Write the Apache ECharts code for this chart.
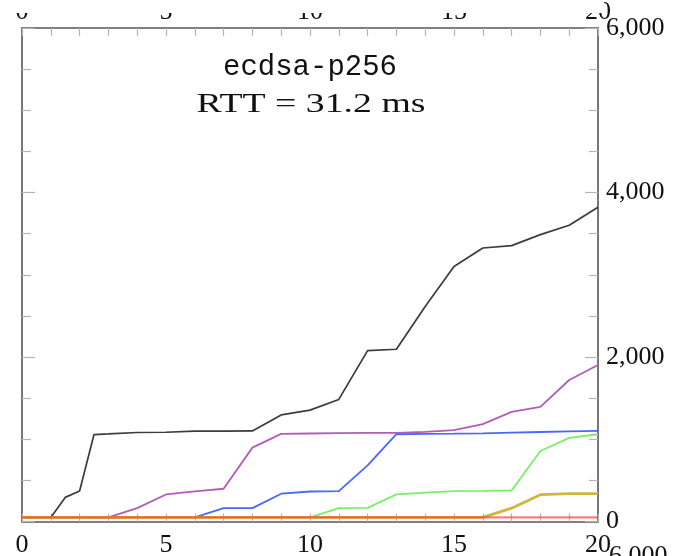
<!DOCTYPE html>
<html>
<head>
<meta charset="utf-8">
<script src="https://cdn.jsdelivr.net/npm/echarts@6/dist/echarts.min.js"></script>
<style>html,body{margin:0;padding:0;background:#fff}#c{width:677px;height:556px}</style>
</head>
<body>
<div id="c"></div>
<script>
var titleText = 'ecdsa-p256';
var subtitleText = 'RTT = 31.2 ms';
var xTicks = [0, 5, 10, 15, 20];
var yTicks = [0, 2000, 4000, 6000];

var blackX = [0, 1, 1.5, 2, 2.5, 3, 4, 5, 6, 7, 8, 9, 10, 11, 12, 13, 14, 15, 16, 17, 18, 19, 20];
var blackY = [50, 50, 293, 370, 1057, 1065, 1082, 1085, 1098, 1100, 1101, 1296, 1354, 1484, 2077, 2094, 2614, 3101, 3325, 3354, 3488, 3602, 3821];
var purpleX = [0, 3, 4, 5, 6, 7, 8, 9, 10, 11, 12, 13, 14, 15, 16, 17, 18, 19, 20];
var purpleY = [50, 50, 162, 329, 365, 398, 898, 1065, 1070, 1075, 1077, 1077, 1090, 1110, 1183, 1333, 1394, 1720, 1902];
var blueX = [0, 6, 7, 8, 9, 10, 11, 12, 13, 14, 15, 16, 17, 18, 19, 20];
var blueY = [50, 50, 162, 162, 338, 365, 370, 683, 1061, 1065, 1068, 1072, 1080, 1088, 1095, 1101];
var greenX = [0, 10, 11, 12, 13, 14, 15, 16, 17, 18, 19, 20];
var greenY = [50, 50, 162, 166, 329, 350, 370, 372, 378, 857, 1016, 1061];
var oliveX = [0, 16, 17, 18, 19, 20];
var oliveY = [50, 50, 162, 326, 338, 338];
var redX = [0, 20];
var redY = [50, 50];

function pairs(xs, ys) { return xs.map(function (x, i) { return [x, ys[i]]; }); }
var fmt = function (v) { return v.toLocaleString('en-US'); };

function axisLine() { return { show: true, onZero: false, lineStyle: { color: '#555', width: 1.6 } }; }
function tickStyle() { return { color: '#b5b5b5', width: 1.2 }; }
function label(margin, show, f) {
  return { show: show, margin: margin, fontFamily: 'Liberation Serif', fontSize: 26, color: '#111', formatter: f };
}
function xAx(pos, margin) {
  return {
    type: 'value', position: pos, min: 0, max: 20, interval: 5,
    axisLine: axisLine(),
    axisTick: { show: true, inside: true, length: 8, lineStyle: tickStyle() },
    minorTick: { show: true, splitNumber: 5, length: 8, lineStyle: tickStyle() },
    axisLabel: label(margin, true, function (v) { return xTicks.indexOf(v) >= 0 ? String(v) : ''; }),
    splitLine: { show: false }, minorSplitLine: { show: false }
  };
}
function yAx(pos, showLabel) {
  return {
    type: 'value', position: pos, min: 0, max: 6000, interval: 2000,
    axisLine: axisLine(),
    axisTick: { show: true, inside: true, length: 13, lineStyle: tickStyle() },
    minorTick: { show: true, splitNumber: 4, length: 9, lineStyle: tickStyle() },
    axisLabel: label(8, showLabel, function (v) { return yTicks.indexOf(v) >= 0 ? fmt(v) : ''; }),
    splitLine: { show: false }, minorSplitLine: { show: false }
  };
}
function mkSeries(name, xs, ys, color, width, opacity) {
  return {
    name: name, type: 'line', data: pairs(xs, ys), symbol: 'none', animation: false,
    xAxisIndex: 0, yAxisIndex: 0,
    lineStyle: { color: color, width: width, opacity: opacity == null ? 1 : opacity },
    itemStyle: { color: color }, z: 3
  };
}

var chart = echarts.init(document.getElementById('c'), null, { renderer: 'canvas' });
chart.setOption({
  animation: false,
  backgroundColor: '#fff',
  grid: { left: 22, right: 79, top: 28, bottom: 34.5, containLabel: false, outerBoundsMode: 'none' },
  xAxis: [xAx('bottom', 11), xAx('top', 3)],
  yAxis: [yAx('left', false), yAx('right', true)],
  series: [
    mkSeries('black', blackX, blackY, '#3c3c3c', 1.7),
    mkSeries('purple', purpleX, purpleY, '#b25cb8', 1.8),
    mkSeries('blue', blueX, blueY, '#4a68ff', 1.8),
    mkSeries('green', greenX, greenY, '#78f066', 1.8),
    mkSeries('olive', oliveX, oliveY, '#d0b640', 2.8),
    mkSeries('red', redX, redY, '#ff3a30', 2.2, 0.65)
  ],
  graphic: [
    { type: 'rect', shape: { x: 0, y: 0, width: 604, height: 13 }, style: { fill: '#fff' }, z: 100 },
    { type: 'text', x: 310, y: 67, z: 100,
      style: { text: titleText, font: '29px "Liberation Mono"', fill: '#111', textAlign: 'center', textVerticalAlign: 'middle' } },
    { type: 'text', x: 311, y: 105, scaleX: 1.35, originX: 0, originY: 0, z: 100,
      style: { text: subtitleText, font: '28px "Liberation Serif"', fill: '#111', textAlign: 'center', textVerticalAlign: 'middle' } },
    { type: 'text', x: 609, y: 543, z: 100,
      style: { text: fmt(6000), font: '26px "Liberation Serif"', fill: '#111' } }
  ]
});
</script>
</body>
</html>
